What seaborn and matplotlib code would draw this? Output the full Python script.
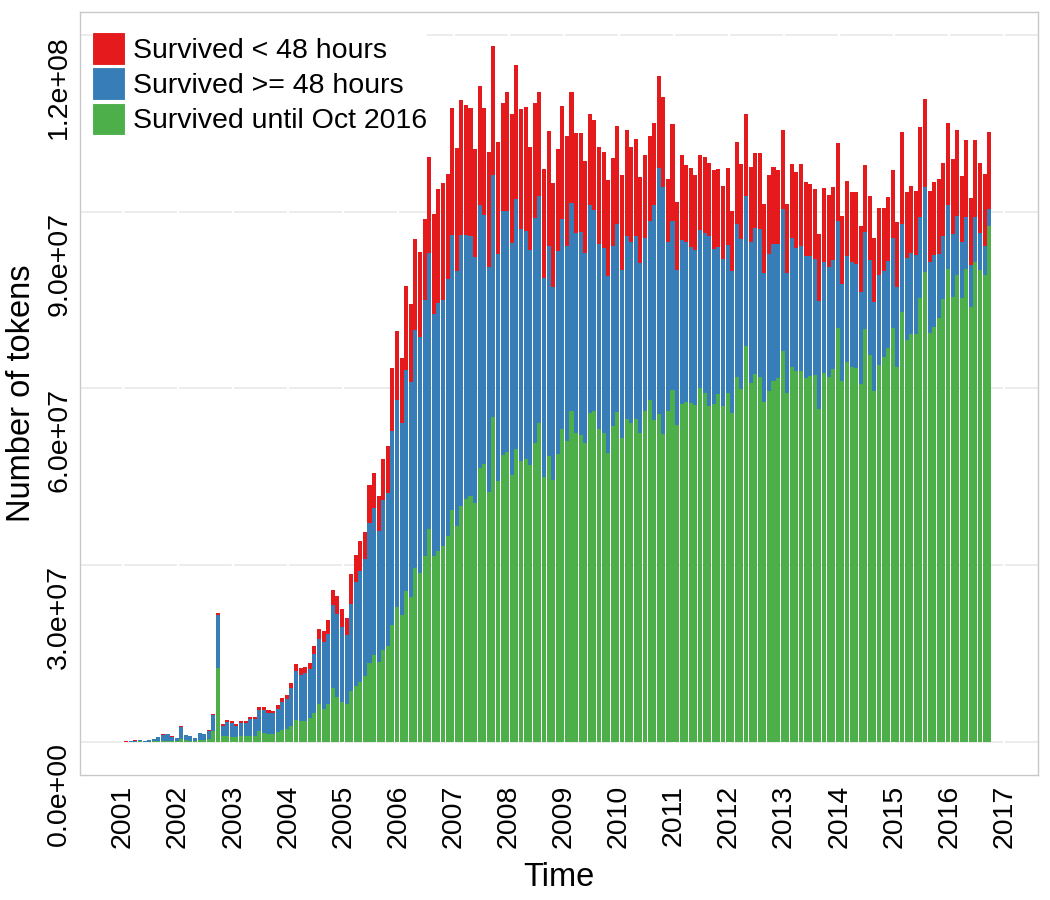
import numpy as np
import pandas as pd
import matplotlib
matplotlib.use("Agg")
import matplotlib.pyplot as plt
from matplotlib.patches import Patch
import seaborn as sns

# ---------------- data (millions of tokens, monthly from Jan 2001) ----------------
# total tokens added per month (top of red)
total_tokens = [
    0.1, 0.2, 0.3, 0.4, 0.2, 0.3, 0.5, 0.85, 1.35, 1.4, 1.0, 0.7,
    2.65, 1.25, 1.0, 0.7, 1.6, 1.35, 2.0, 4.75, 21.9, 3.0, 3.7, 3.5,
    3.05, 3.55, 3.55, 4.3, 4.3, 6.0, 5.9, 5.4, 5.3, 6.2, 7.5, 7.9,
    9.95, 13.2, 12.55, 12.7, 13.45, 16.3, 19.1, 18.8, 20.7, 25.85, 24.8, 22.6,
    21.0, 28.5, 31.7, 34.1, 35.6, 43.7, 45.6, 41.7, 48.1, 50.2, 63.5, 69.8,
    65.1, 77.4, 74.4, 85.3, 83.2, 88.8, 99.3, 89.7, 93.8, 94.9, 96.4, 107.6,
    100.9, 109.0, 108.1, 107.6, 100.7, 111.4, 107.6, 100.1, 118.2, 101.9, 108.4, 110.3,
    106.6, 114.9, 107.4, 107.8, 101.0, 108.4, 110.3, 97.3, 103.7, 94.9, 100.6, 107.9,
    102.8, 110.3, 103.3, 103.3, 98.6, 106.6, 105.5, 101.0, 100.2, 95.4, 99.2, 104.6,
    96.2, 103.8, 101.0, 102.4, 95.9, 99.6, 102.8, 105.1, 113.0, 109.4, 95.6, 104.9,
    91.7, 99.6, 98.0, 97.4, 96.3, 99.6, 99.3, 98.3, 97.1, 97.3, 94.3, 97.4,
    90.2, 101.8, 98.1, 106.6, 97.6, 99.9, 100.0, 91.3, 96.2, 97.6, 97.1, 103.8,
    91.3, 98.1, 96.8, 98.1, 95.1, 94.7, 93.8, 86.3, 94.1, 92.8, 94.2, 101.6,
    89.3, 95.3, 93.3, 93.3, 87.6, 98.0, 92.7, 85.6, 90.6, 90.7, 92.5, 97.0,
    88.2, 103.6, 93.3, 94.3, 93.6, 104.4, 109.1, 93.5, 95.1, 95.5, 98.2, 105.1,
    98.9, 103.8, 96.1, 102.2, 92.3, 102.1, 98.2, 96.4, 103.5,
]
# tokens that survived >= 48 hours (includes those surviving until Oct 2016)
survived_48h = [
    0.08, 0.15, 0.25, 0.35, 0.18, 0.27, 0.45, 0.8, 1.25, 1.3, 0.85, 0.65,
    2.5, 1.15, 0.95, 0.65, 1.5, 1.3, 1.85, 4.6, 21.6, 2.7, 3.4, 3.2,
    2.8, 3.25, 3.3, 3.95, 3.95, 5.5, 5.4, 5.0, 4.9, 5.65, 6.75, 7.35,
    9.1, 12.1, 11.4, 11.7, 12.4, 15.0, 17.5, 17.0, 18.3, 23.25, 21.7, 19.5,
    18.15, 23.5, 27.15, 29.0, 31.0, 37.1, 39.8, 35.8, 41.1, 42.2, 52.8, 58.1,
    54.1, 63.2, 61.1, 69.9, 68.8, 75.0, 83.0, 72.6, 74.5, 75.1, 78.6, 86.0,
    80.0, 86.0, 86.0, 85.8, 82.4, 91.1, 89.4, 80.7, 96.3, 82.8, 90.2, 90.2,
    84.7, 92.2, 87.0, 86.8, 83.5, 89.0, 92.7, 78.8, 84.1, 77.2, 83.3, 88.7,
    84.2, 91.5, 86.4, 86.6, 83.0, 91.1, 90.3, 84.6, 83.9, 79.1, 84.2, 88.0,
    80.1, 85.9, 84.8, 85.8, 81.3, 85.5, 88.5, 91.2, 97.4, 94.2, 84.8, 88.4,
    80.1, 85.2, 84.8, 84.0, 83.5, 86.9, 86.4, 85.9, 83.7, 84.0, 82.0, 84.4,
    80.0, 88.0, 85.4, 92.7, 84.8, 87.3, 87.0, 79.6, 82.8, 84.6, 84.5, 90.5,
    79.6, 85.6, 83.8, 84.1, 82.5, 82.5, 81.9, 74.9, 81.4, 80.6, 81.8, 88.5,
    77.7, 82.5, 81.4, 81.1, 76.4, 86.6, 81.8, 74.7, 79.3, 79.9, 81.6, 85.6,
    77.2, 87.9, 82.1, 83.0, 82.7, 89.1, 94.2, 81.5, 82.6, 82.9, 85.8, 91.2,
    86.2, 89.3, 84.8, 89.1, 81.0, 89.1, 86.4, 84.1, 90.5,
]
# tokens that survived until Oct 2016
survived_oct2016 = [
    0.02, 0.05, 0.08, 0.1, 0.05, 0.08, 0.12, 0.18, 0.25, 0.25, 0.22, 0.15,
    0.5, 0.3, 0.2, 0.2, 0.3, 0.3, 0.45, 1.9, 12.6, 1.0, 1.1, 0.85,
    0.85, 1.1, 1.1, 1.1, 1.1, 1.9, 1.5, 1.4, 1.4, 1.7, 2.0, 2.26,
    2.8, 3.7, 3.5, 3.6, 4.1, 4.9, 6.5, 5.6, 6.4, 9.2, 7.6, 6.85,
    6.45, 8.65, 9.55, 10.2, 11.2, 13.35, 14.8, 13.5, 15.6, 16.3, 19.85, 22.9,
    21.6, 25.7, 24.6, 29.5, 28.6, 31.6, 36.1, 31.6, 32.4, 33.2, 35.0, 39.3,
    36.7, 40.0, 41.2, 41.8, 40.5, 46.5, 47.1, 42.4, 55.1, 44.3, 48.7, 49.3,
    45.3, 49.8, 47.7, 48.0, 47.0, 50.8, 54.1, 44.9, 48.6, 44.5, 48.9, 53.1,
    51.1, 56.2, 52.4, 52.1, 50.7, 55.8, 56.2, 53.1, 52.4, 49.0, 53.7, 56.0,
    51.6, 54.9, 54.2, 54.9, 52.5, 56.2, 58.1, 54.7, 55.7, 52.2, 56.2, 59.7,
    53.8, 57.4, 57.7, 57.6, 57.2, 60.0, 59.3, 57.0, 57.3, 59.0, 57.0, 59.3,
    55.9, 62.0, 59.9, 67.2, 61.0, 62.5, 62.0, 57.7, 59.5, 61.3, 61.7, 66.4,
    59.3, 63.7, 62.9, 63.0, 61.8, 62.2, 62.3, 56.5, 62.6, 62.0, 63.3, 70.2,
    61.3, 64.5, 63.6, 63.5, 60.7, 70.1, 65.6, 59.5, 64.0, 65.4, 66.9, 70.3,
    63.7, 73.0, 68.2, 69.3, 69.3, 75.3, 79.7, 69.4, 70.4, 71.9, 75.2, 80.2,
    75.6, 79.2, 75.3, 80.3, 73.9, 81.4, 80.1, 79.3, 87.6,
]
series_labels = ["Survived < 48 hours", "Survived >= 48 hours", "Survived until Oct 2016"]
series_colors = ["#E41A1C", "#377EB8", "#4DAF4A"]
year_ticks = list(range(2001, 2018))
y_ticks = [0, 3e7, 6e7, 9e7, 1.2e8]
y_tick_labels = ["0.0e+00", "3.0e+07", "6.0e+07", "9.0e+07", "1.2e+08"]

# ---------------- build frame ----------------
months = pd.date_range("2001-01-01", periods=len(total_tokens), freq="MS")
xpos = months.year + (months.month - 1 + 0.7) / 12.0
df = pd.DataFrame({
    "x": np.round(xpos, 6),
    "total": np.array(total_tokens) * 1e6,
    "ge48": np.array(survived_48h) * 1e6,
    "oct": np.array(survived_oct2016) * 1e6,
})

sns.set_style("white")
plt.rcParams["font.family"] = ["Liberation Sans", "DejaVu Sans"]
plt.rcParams["text.color"] = "black"
plt.rcParams["axes.labelcolor"] = "black"

fig = plt.figure(figsize=(10.5, 9), dpi=100)
ax = fig.add_axes([80 / 1050, 1 - 775 / 900, 958 / 1050, 763 / 900])

for col, color in zip(["total", "ge48", "oct"], series_colors):
    sns.barplot(data=df, x="x", y=col, native_scale=True, color=color,
                saturation=1, width=0.88, linewidth=0, errorbar=None,
                ax=ax, zorder=3)

ax.set_xlim(2000.22, 2017.61)
ax.set_ylim(-5.6e6, 123.9e6)

ax.set_xticks(year_ticks)
ax.set_xticklabels([str(y) for y in year_ticks], rotation=90, fontsize=20.5, color="black")
ax.set_yticks(y_ticks)
ax.set_yticklabels(y_tick_labels, rotation=90, va="top", ha="right", fontsize=20.5, color="black")
ax.tick_params(axis="both", length=4, width=1.1, color="#333333")
ax.tick_params(axis="x", pad=3)
ax.tick_params(axis="y", pad=1.5)

ax.yaxis.grid(True, color="#ebebeb", linewidth=1.3, zorder=0)
ax.xaxis.grid(False)
ax.set_axisbelow(True)
for yr in year_ticks:
    ax.axvline(yr, color="white", linewidth=1.6, zorder=1)
for sp in ax.spines.values():
    sp.set_visible(True)
    sp.set_color("#c8c8c8")
    sp.set_linewidth(1)

ax.set_xlabel("Time", fontsize=23.5, labelpad=10)
ax.set_ylabel("Number of tokens", fontsize=23.5, labelpad=6.5)

handles = [Patch(facecolor=c, edgecolor="white", linewidth=0.8) for c in series_colors]
leg = ax.legend(handles, series_labels, loc="upper left",
                bbox_to_anchor=(12 / 958, (775 - 32) / 763),
                fontsize=20.5, frameon=True, facecolor="white", edgecolor="none",
                framealpha=1, fancybox=False, borderpad=0, borderaxespad=0,
                handlelength=1.17, handleheight=1.38, handletextpad=0.28,
                labelspacing=0.1)
for t in leg.get_texts():
    t.set_color("black")

fig.savefig("out.png", dpi=100)
